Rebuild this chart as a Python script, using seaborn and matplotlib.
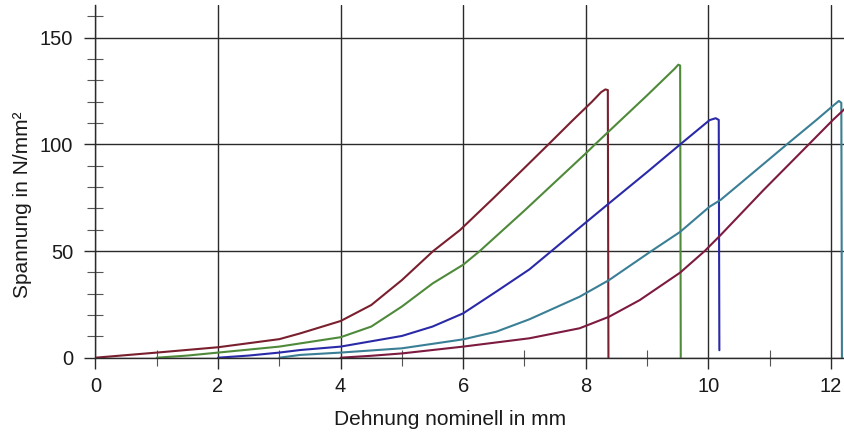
import matplotlib
matplotlib.use("Agg")
import matplotlib.pyplot as plt
from matplotlib.ticker import MultipleLocator
import seaborn as sns
import pandas as pd

# Zugversuch: fünf Proben, jeweils um 1 mm versetzt
x1 = [0, 1, 2, 3, 3.34, 4, 4.5, 5, 5.51, 5.95, 6.5, 7, 7.39, 7.79, 8.1, 8.25, 8.32, 8.36, 8.37]
y1 = [0, 2.4, 4.9, 8.7, 11.4, 17.2, 24.7, 36.4, 50, 59.9, 75, 89, 100, 111.4, 120, 124.5, 125.8, 125.5, 0]

x2 = [1.0, 1.5, 2, 3, 3.34, 4, 4.5, 5, 5.5, 6, 6.27, 7, 8, 8.15, 9, 9.45, 9.51, 9.54, 9.55]
y2 = [0, 1, 2.4, 5.2, 6.7, 9.6, 14.6, 24, 34.8, 43.6, 50, 69, 95.8, 100, 123, 135.5, 137.4, 137, 0]

x3 = [2.0, 2.5, 3, 3.34, 4, 5, 5.5, 6, 6.54, 7.08, 7.44, 7.9, 8.38, 9, 9.54, 10.02, 10.12, 10.17, 10.18]
y3 = [0, 1, 2.4, 3.6, 5.2, 10.2, 14.6, 20.8, 31, 41.4, 50, 61, 72.4, 87, 100, 111.4, 112.3, 111.5, 3.5]

x4 = [3.0, 3.34, 4, 5, 6, 6.54, 7.08, 7.9, 8.38, 9.07, 9.54, 10.02, 10.2, 10.6, 11.28, 11.76,
      12.05, 12.13, 12.17, 12.18]
y4 = [0, 1.3, 2.4, 4.4, 8.6, 12.2, 18, 28.6, 36.4, 50, 59, 70.8, 74, 83.6, 100, 111.4,
      118.5, 120.4, 119.5, 0]

x5 = [4.0, 4.5, 5, 6, 7.08, 7.9, 8.38, 8.88, 9.54, 9.94, 10.2, 10.9, 11.5, 12.03, 12.3]
y5 = [0, 0.9, 2.0, 5.2, 9.1, 13.8, 19.2, 27, 39.9, 50, 57.5, 78.6, 96, 111.4, 118.7]

x_ticks = [0, 2, 4, 6, 8, 10, 12]
y_ticks = [0, 50, 100, 150]

colors = ["#7a1f2e", "#4f8a3a", "#2a2aa8", "#3a7f95", "#7d1a40"]

frames = []
for i, (xs, ys) in enumerate([(x1, y1), (x2, y2), (x3, y3), (x4, y4), (x5, y5)]):
    frames.append(pd.DataFrame({"x": xs, "y": ys, "probe": f"P{i + 1}"}))
df = pd.concat(frames, ignore_index=True)

sns.set_theme(style="ticks")
plt.rcParams["font.family"] = ["Liberation Sans", "DejaVu Sans"]

fig = plt.figure(figsize=(8.45, 4.32), dpi=100)
ax = fig.add_axes([0.113, 0.172, 0.887, 0.816])

sns.lineplot(data=df, x="x", y="y", hue="probe", units="probe", estimator=None,
             sort=False, palette=colors, linewidth=1.5, legend=False, ax=ax)

ax.set_xlim(0, 12.23)
ax.set_ylim(0, 165.3)
ax.set_xticks(x_ticks)
ax.set_yticks(y_ticks)
ax.xaxis.set_minor_locator(MultipleLocator(1))
ax.yaxis.set_minor_locator(MultipleLocator(10))

ax.grid(True, which="major", color="#2a2a2a", linewidth=1.0)
ax.set_axisbelow(True)
sns.despine(ax=ax, top=True, right=True)
for s in ("left", "bottom"):
    ax.spines[s].set_color("#2a2a2a")
    ax.spines[s].set_linewidth(1.0)

ax.tick_params(which="major", direction="out", length=8, width=1.0, color="#2a2a2a",
               labelsize=14.5, labelcolor="#1a1a1a", pad=6)
ax.tick_params(axis="y", which="major", pad=8)
ax.tick_params(which="minor", direction="inout", length=11, width=0.8, color="#555555")

ax.set_xlabel("Dehnung nominell in mm", fontsize=15, color="#1a1a1a")
ax.set_ylabel("Spannung in N/mm²", fontsize=15, color="#1a1a1a")
ax.xaxis.set_label_coords(0.473, -0.148)
ax.yaxis.set_label_coords(-0.085, 0.433)

fig.savefig("out.png", dpi=100)
plt.close()
